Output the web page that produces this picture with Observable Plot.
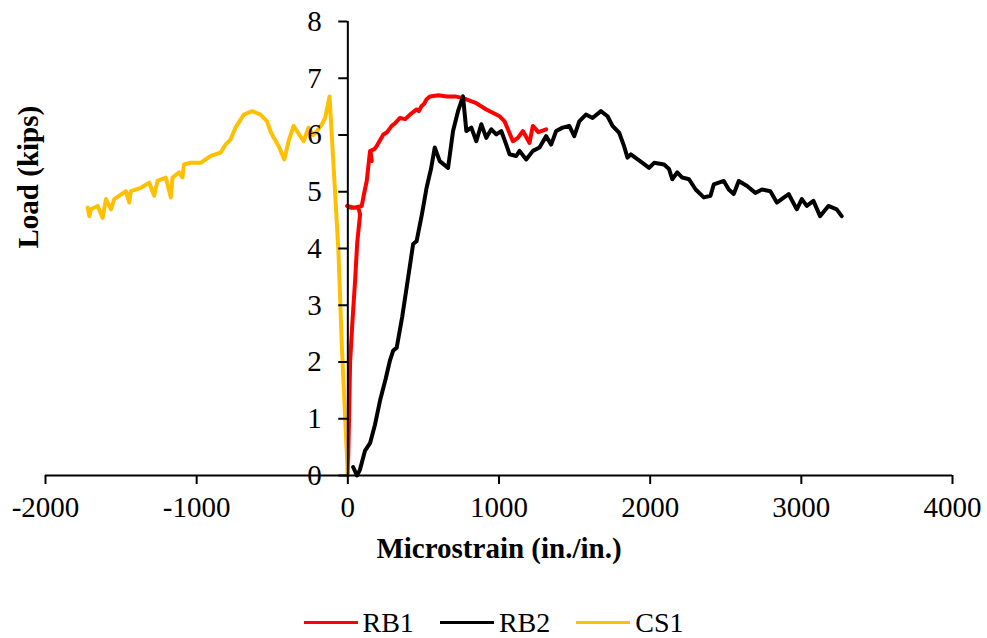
<!DOCTYPE html>
<html>
<head>
<meta charset="utf-8">
<script src="https://cdn.jsdelivr.net/npm/d3@7"></script>
<script src="https://cdn.jsdelivr.net/npm/@observablehq/plot@0.6"></script>
<style>
  html, body { margin: 0; padding: 0; background: #fff; overflow: hidden; }
  #chart { width: 987px; height: 608px; }
  #chart svg { display: block; }
  #legend {
    display: flex; justify-content: center; align-items: center;
    height: 29px; line-height: 29px; font-family: 'Liberation Serif', 'Times New Roman', serif;
    font-size: 28px; color: #000; width: 987px;
  }
  .item { display: flex; align-items: center; margin: 0 13px; height: 29px; }
  .item span { line-height: 29px; }
  .swatch { width: 54px; height: 3.5px; margin-right: 5px; }
</style>
</head>
<body>
<div id="chart"></div>
<div id="legend"></div>
<script>
const seriesNames = ["RB1", "RB2", "CS1"];
const seriesColors = ["#FF0000", "#000000", "#FFC000"];
const xTicks = [-2000, -1000, 0, 1000, 2000, 3000, 4000];
const yTicks = [0, 1, 2, 3, 4, 5, 6, 7, 8];

const rb1X = [0, 8, 15, 30, 48, 62, 81, 70, 20, -5, 40, 92, 110, 125, 147, 158, 150, 175, 190, 235, 260, 290, 310, 345, 380, 411, 430, 455, 470, 488, 505, 521, 543, 600, 653, 710, 762, 810, 850, 916, 1004, 1037, 1059, 1092, 1125, 1158, 1202, 1224, 1260, 1312];
const rb1Y = [0, 1, 2, 2.7, 3.43, 4.1, 4.6, 4.72, 4.72, 4.75, 4.72, 4.75, 5.0, 5.19, 5.72, 5.54, 5.72, 5.75, 5.8, 6.01, 6.05, 6.16, 6.2, 6.30, 6.28, 6.36, 6.4, 6.45, 6.42, 6.51, 6.55, 6.63, 6.68, 6.7, 6.68, 6.68, 6.65, 6.6, 6.56, 6.45, 6.33, 6.24, 6.10, 5.89, 5.95, 6.07, 5.86, 6.16, 6.05, 6.10];

const rb2X = [35, 60, 80, 114, 147, 180, 213, 250, 279, 300, 323, 360, 399, 432, 455, 490, 521, 550, 575, 608, 663, 696, 729, 762, 784, 817, 850, 883, 916, 949, 982, 1015, 1048, 1070, 1114, 1136, 1180, 1224, 1268, 1312, 1345, 1378, 1421, 1465, 1498, 1531, 1575, 1619, 1674, 1718, 1751, 1795, 1828, 1850, 1872, 1949, 1993, 2026, 2092, 2125, 2146, 2179, 2212, 2257, 2301, 2355, 2399, 2421, 2487, 2520, 2553, 2586, 2641, 2696, 2740, 2795, 2838, 2916, 2970, 3003, 3036, 3080, 3124, 3179, 3234, 3267];
const rb2Y = [0.15, 0, 0.1, 0.44, 0.57, 0.9, 1.32, 1.7, 2.03, 2.2, 2.25, 2.8, 3.49, 4.08, 4.13, 4.6, 5.07, 5.4, 5.78, 5.54, 5.42, 6.07, 6.42, 6.68, 6.07, 6.13, 5.89, 6.19, 5.95, 6.10, 6.01, 6.07, 5.83, 5.66, 5.63, 5.72, 5.57, 5.72, 5.78, 5.98, 5.83, 6.07, 6.13, 6.16, 5.98, 6.24, 6.36, 6.30, 6.42, 6.33, 6.16, 6.04, 5.80, 5.60, 5.66, 5.51, 5.42, 5.51, 5.48, 5.40, 5.22, 5.34, 5.25, 5.22, 5.04, 4.90, 4.93, 5.13, 5.19, 5.04, 4.96, 5.19, 5.10, 4.98, 5.04, 5.01, 4.81, 4.96, 4.69, 4.87, 4.75, 4.84, 4.57, 4.75, 4.69, 4.57];

const cs1X = [0, -40, -62, -95, -121, -150, -171, -204, -230, -260, -293, -320, -359, -392, -420, -457, -490, -512, -534, -578, -633, -688, -743, -776, -809, -842, -908, -974, -1040, -1084, -1094, -1117, -1160, -1171, -1204, -1259, -1281, -1314, -1369, -1435, -1446, -1468, -1545, -1567, -1600, -1622, -1655, -1699, -1710, -1721];
const cs1Y = [0, 2.3, 3.95, 5.48, 6.68, 6.3, 6.19, 6.07, 6.0, 6.13, 5.89, 6.0, 6.16, 5.89, 5.57, 5.80, 5.95, 6.07, 6.24, 6.36, 6.42, 6.36, 6.13, 5.92, 5.83, 5.69, 5.63, 5.51, 5.51, 5.48, 5.25, 5.34, 5.25, 4.90, 5.25, 5.19, 4.93, 5.16, 5.07, 5.01, 4.81, 5.01, 4.87, 4.69, 4.87, 4.54, 4.75, 4.69, 4.57, 4.72];

const seriesX = [rb1X, rb2X, cs1X];
const seriesY = [rb1Y, rb2Y, cs1Y];
const data = [];
seriesNames.forEach((name, i) => {
  seriesX[i].forEach((x, j) => data.push({series: name, x, y: seriesY[i][j]}));
});

const font = "'Liberation Serif', 'Times New Roman', serif";

const chart = Plot.plot({
  width: 987,
  height: 608,
  marginTop: 21,
  marginLeft: 45,
  marginRight: 35,
  marginBottom: 133,
  style: {fontFamily: font, fontSize: "29px", color: "#000", background: "#fff", overflow: "visible"},
  x: {domain: [-2000, 4000], axis: null},
  y: {domain: [0, 8], axis: null},
  color: {domain: seriesNames, range: seriesColors},
  marks: [
    Plot.line(data, {x: "x", y: "y", z: "series", stroke: "series", strokeWidth: 4, strokeLinejoin: "round", strokeLinecap: "round"}),
    Plot.ruleX([0], {y1: 0, y2: 8, stroke: "#000", strokeWidth: 2}),
    Plot.ruleY([0], {x1: -2000, x2: 4000, stroke: "#000", strokeWidth: 2}),
    Plot.ruleY(yTicks, {y: d => d, x1: -60, x2: 0, stroke: "#000", strokeWidth: 2}),
    Plot.text(yTicks, {x: 0, y: d => d, dx: -26, textAnchor: "end", text: d => String(d), fontSize: 29, fill: "#000"}),
    Plot.axisX(xTicks, {tickSize: 9, tickPadding: 12, tickFormat: d => String(d), label: null, fontSize: 29, strokeWidth: 2, fill: "#000", stroke: "#000"}),
    Plot.text(["Microstrain (in./in.)"], {frameAnchor: "bottom", dy: 82, fontWeight: "bold", fontSize: 29, fill: "#000"}),
    Plot.text(["Load (kips)"], {frameAnchor: "left", rotate: -90, dx: -17, fontWeight: "bold", fontSize: 29, fill: "#000"})
  ]
});
document.getElementById("chart").appendChild(chart);

const legend = document.getElementById("legend");
seriesNames.forEach((name, i) => {
  const item = document.createElement("div");
  item.className = "item";
  const sw = document.createElement("div");
  sw.className = "swatch";
  sw.style.background = seriesColors[i];
  const label = document.createElement("span");
  label.textContent = name;
  item.appendChild(sw);
  item.appendChild(label);
  legend.appendChild(item);
});
</script>
</body>
</html>
